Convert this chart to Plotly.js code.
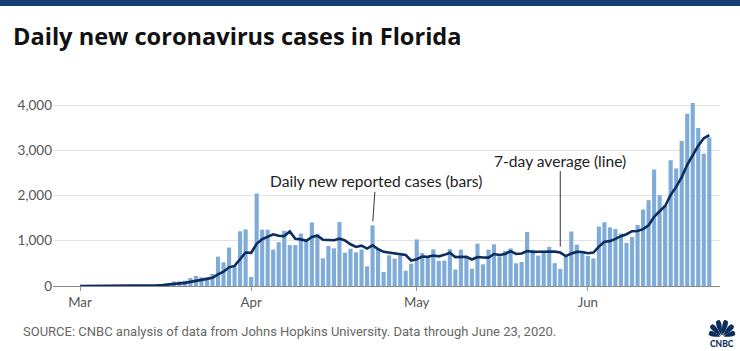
<!DOCTYPE html>
<html>
<head>
<meta charset="utf-8">
<script src="https://cdn.plot.ly/plotly-3.0.1.min.js"></script>
<style>
html,body{margin:0;padding:0;background:#fff;}
#chart{width:740px;height:351px;}
</style>
</head>
<body>
<div id="chart"></div>
<script>
// ---- Data ----
const monthKeys = ['2020-03', '2020-04', '2020-05', '2020-06'];
const monthLabels = ['Mar', 'Apr', 'May', 'Jun'];

const marchCases = [2,0,1,0,1,2,4,6,3,6,8,13,20,25,30,45,65,100,103,118,177,221,192,188,265,649,523,850,440,1209,1250];
const aprilCases = [200,2045,1245,1245,805,970,1220,905,905,1160,1030,1405,1150,612,884,833,1415,737,825,745,805,435,1340,835,310,678,605,678,339,495];
const mayCases   = [1030,730,634,811,555,560,815,365,805,620,383,935,480,805,920,655,775,830,501,530,1195,800,672,755,865,505,378,655,1205,915,735];
const juneCases  = [665,610,1315,1410,1295,1260,1160,955,1085,1350,1690,1898,2575,2008,1780,2780,2600,3205,3810,4045,3490,2925,3280];

const marchAvg = [0,0,0,0,1,1,1,2,2,3,4,6,9,12,15,21,29,43,55,69,91,118,139,157,181,259,316,413,444,589,741];
const aprilAvg = [732,931,1034,1091,1143,1109,1104,1205,1042,1030,999,1085,1111,1024,1021,1011,1047,1005,922,864,892,828,900,817,756,735,715,697,684,563];
const mayAvg   = [591,651,644,674,656,688,734,639,649,647,586,640,629,628,707,685,708,771,709,717,772,755,758,755,760,760,739,661,719,754,751];
const juneAvg  = [723,738,871,979,992,1041,1102,1144,1211,1216,1256,1343,1530,1652,1769,2012,2190,2407,2680,2890,3101,3265,3336];

const yTicks = [0, 1000, 2000, 3000, 4000];
const yTickText = ['0', '1,000', '2,000', '3,000', '4,000'];

// ---- Build series ----
const caseMonths = [marchCases, aprilCases, mayCases, juneCases];
const avgMonths = [marchAvg, aprilAvg, mayAvg, juneAvg];
const dates = [], cases = [], avg = [];
monthKeys.forEach((m, k) => {
  caseMonths[k].forEach((v, i) => {
    dates.push(m + '-' + String(i + 1).padStart(2, '0'));
    cases.push(v);
    avg.push(avgMonths[k][i]);
  });
});
const monthStarts = monthKeys.map(m => m + '-01');

// ---- Pixel helpers for decorations ----
const PL = 53, PR = 720, PT = 96, PB = 286;
const px = x => (x - PL) / (PR - PL);
const py = y => (PB - y) / (PB - PT);

const navy = '#0d2d5e';
const barIdx = dates.indexOf('2020-04-23');
const avgIdx = dates.indexOf('2020-05-27');

// CNBC peacock feathers (simple approximation)
function feather(cx, cy, deg, r, w) {
  const t = deg * Math.PI / 180;
  const u = [Math.sin(t), -Math.cos(t)], n = [Math.cos(t), Math.sin(t)];
  const B = [cx + u[0] * 1.5, cy + u[1] * 1.5];
  const T = [cx + u[0] * r, cy + u[1] * r];
  const p = (a) => px(a[0]).toFixed(5) + ',' + py(a[1]).toFixed(5);
  const add = (a, b, s) => [a[0] + b[0] * s, a[1] + b[1] * s];
  const c1 = add(add(B, n, w * 0.8), u, r * 0.45);
  const c2 = add(add(T, n, w), u, r * 0.1);
  const c3 = add(add(T, n, -w), u, r * 0.1);
  const c4 = add(add(B, n, -w * 0.8), u, r * 0.45);
  return {type: 'path', xref: 'paper', yref: 'paper', fillcolor: navy, line: {width: 0},
    path: 'M' + p(B) + ' C' + p(c1) + ' ' + p(c2) + ' ' + p(T) + ' C' + p(c3) + ' ' + p(c4) + ' ' + p(B) + ' Z'};
}
const logoShapes = [];
[-72, -43, -14, 14, 43, 72].forEach((d, i) => {
  const r = (i === 0 || i === 5) ? 13.5 : (i === 1 || i === 4 ? 16 : 17);
  logoShapes.push(feather(722, 337, d, r, 3.8));
});

const bars = {
  type: 'bar', x: dates, y: cases,
  marker: {color: '#7eabd8', line: {width: 0}},
  hoverinfo: 'skip'
};
const line = {
  type: 'scatter', mode: 'lines', x: dates, y: avg,
  line: {color: navy, width: 2.6},
  hoverinfo: 'skip'
};

const labelFont = {family: 'Lato', size: 15.6, color: '#222'};

const layout = {
  width: 740, height: 351, autosize: false,
  margin: {l: PL, r: 740 - PR, t: PT, b: 351 - PB, pad: 0},
  paper_bgcolor: '#fff', plot_bgcolor: '#fff',
  showlegend: false, bargap: 0.25,
  title: {
    text: 'Daily new coronavirus cases in Florida',
    font: {family: 'Open Sans', size: 23.6, color: '#111', weight: 700},
    xref: 'container', yref: 'container',
    x: 13 / 740, xanchor: 'left', y: 1 - 37 / 351, yanchor: 'middle'
  },
  xaxis: {
    type: 'date', range: ['2020-02-25 02:38', '2020-06-24 22:30'],
    tickvals: monthStarts, ticktext: monthLabels,
    ticks: 'outside', ticklen: 4, tickcolor: '#999', tickwidth: 1,
    showgrid: false, zeroline: false, showline: false,
    tickfont: {family: 'Lato', size: 13.3, color: '#555'}, fixedrange: true
  },
  yaxis: {
    range: [0, 4200], tickvals: yTicks, ticktext: yTickText,
    showgrid: true, gridcolor: '#e3e3e3', gridwidth: 1,
    zeroline: true, zerolinecolor: '#888', zerolinewidth: 1,
    ticks: '', showline: false,
    tickfont: {family: 'Lato', size: 13.5, color: '#555'}, fixedrange: true
  },
  shapes: [
    {type: 'rect', xref: 'paper', yref: 'paper', x0: px(0), x1: px(740), y0: py(6), y1: py(0),
     fillcolor: '#143d73', line: {width: 0}}
  ].concat(logoShapes),
  annotations: [
    {x: dates[barIdx], y: cases[barIdx], xref: 'x', yref: 'y',
     text: 'Daily new reported cases (bars)', font: labelFont,
     showarrow: true, arrowhead: 0, arrowwidth: 1, arrowcolor: '#333',
     ax: 3, ay: -44, standoff: 4},
    {x: dates[avgIdx], y: avg[avgIdx], xref: 'x', yref: 'y',
     text: '7-day average (line)', font: labelFont,
     showarrow: true, arrowhead: 0, arrowwidth: 1, arrowcolor: '#333',
     ax: 0, ay: -92, standoff: 6},
    {x: px(21), y: py(331), xref: 'paper', yref: 'paper', xanchor: 'left', yanchor: 'middle',
     text: 'SOURCE: CNBC analysis of data from Johns Hopkins University. Data through June 23, 2020.',
     showarrow: false, font: {family: 'Roboto', size: 13, color: '#666'}},
    {x: px(722), y: py(343.5), xref: 'paper', yref: 'paper', xanchor: 'center', yanchor: 'middle',
     text: 'CNBC', showarrow: false, font: {family: 'Lato', size: 8.5, color: navy, weight: 900}}
  ]
};

Plotly.newPlot('chart', [bars, line], layout, {displayModeBar: false, staticPlot: true});
</script>
</body>
</html>
